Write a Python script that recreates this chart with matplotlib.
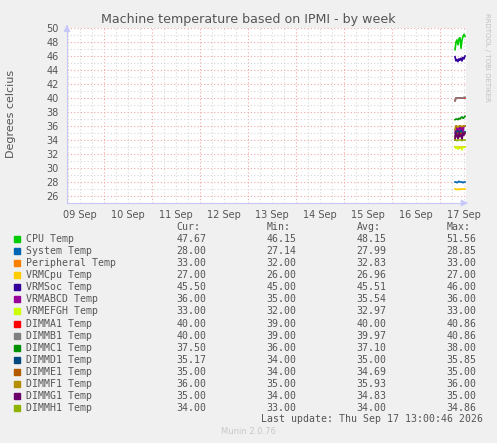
import matplotlib
matplotlib.use('Agg')
import matplotlib.pyplot as plt
import matplotlib.dates as mdates
import pandas as pd
import numpy as np

# samples (30 min resolution), last hours of the week
times = pd.date_range('2026-09-17 07:30', periods=11, freq='30min')

labels = ['CPU Temp', 'System Temp', 'Peripheral Temp', 'VRMCpu Temp', 'VRMSoc Temp',
          'VRMABCD Temp', 'VRMEFGH Temp', 'DIMMA1 Temp', 'DIMMB1 Temp', 'DIMMC1 Temp',
          'DIMMD1 Temp', 'DIMME1 Temp', 'DIMMF1 Temp', 'DIMMG1 Temp', 'DIMMH1 Temp']
colors = ['#00CC00', '#0066B3', '#FF8000', '#FFCC00', '#330099', '#990099', '#CCFF00',
          '#FF0000', '#808080', '#008F00', '#00487D', '#B35A00', '#B38F00', '#6B006B', '#8FB300']

cpu = [46.9, 48.0, 48.3, 47.6, 48.5, 48.6, 47.1, 48.3, 48.8, 49.1, 48.8]
system = [28.0, 28.0, 27.9, 28.0, 28.1, 28.0, 28.0, 28.0, 27.9, 28.0, 28.0]
peripheral = [33.0, 32.9, 33.0, 33.0, 32.8, 33.0, 33.0, 32.9, 33.0, 33.0, 33.0]
vrmcpu = [27.0, 27.0, 26.9, 27.0, 27.0, 26.9, 27.0, 27.0, 27.0, 27.0, 27.0]
vrmsoc = [45.9, 45.3, 45.5, 45.2, 45.6, 45.4, 45.7, 45.3, 45.8, 45.6, 46.0]
vrmabcd = [35.0, 36.0, 35.2, 35.8, 35.1, 36.0, 35.5, 35.9, 35.2, 36.0, 36.0]
vrmefgh = [33.0, 32.8, 33.0, 32.7, 33.0, 33.0, 32.9, 32.6, 33.0, 33.0, 33.0]
dimma1 = [39.6, 40.0, 40.0, 40.0, 40.0, 40.0, 40.0, 40.0, 40.0, 40.0, 40.0]
dimmb1 = [39.6, 40.0, 40.0, 40.0, 40.0, 40.0, 40.0, 40.0, 40.0, 40.1, 40.1]
dimmc1 = [36.9, 37.0, 37.0, 36.9, 37.1, 37.0, 37.2, 37.3, 37.1, 37.2, 37.4]
dimmd1 = [34.5, 35.2, 34.8, 35.3, 34.9, 35.0, 35.4, 34.8, 35.1, 35.0, 35.2]
dimme1 = [34.2, 35.0, 34.5, 35.0, 34.4, 34.8, 35.0, 34.6, 34.8, 35.0, 35.0]
dimmf1 = [35.5, 36.0, 36.0, 35.8, 36.0, 36.0, 36.0, 35.9, 36.0, 36.0, 36.0]
dimmg1 = [34.0, 35.0, 34.6, 34.2, 35.0, 34.5, 34.8, 34.0, 35.0, 34.7, 35.0]
dimmh1 = [34.0, 34.0, 33.9, 34.0, 34.0, 34.0, 34.0, 33.9, 34.0, 34.0, 34.0]
series = [cpu, system, peripheral, vrmcpu, vrmsoc, vrmabcd, vrmefgh, dimma1, dimmb1,
          dimmc1, dimmd1, dimme1, dimmf1, dimmg1, dimmh1]

cur = ['47.67', '28.00', '33.00', '27.00', '45.50', '36.00', '33.00', '40.00', '40.00',
       '37.50', '35.17', '35.00', '36.00', '35.00', '34.00']
mins = ['46.15', '27.14', '32.00', '26.00', '45.00', '35.00', '32.00', '39.00', '39.00',
        '36.00', '34.00', '34.00', '35.00', '34.00', '33.00']
avgs = ['48.15', '27.99', '32.83', '26.96', '45.51', '35.54', '32.97', '40.00', '39.97',
        '37.10', '35.00', '34.69', '35.93', '34.83', '34.00']
maxs = ['51.56', '28.85', '33.00', '27.00', '46.00', '36.00', '33.00', '40.86', '40.86',
        '38.00', '35.85', '35.00', '36.00', '35.00', '34.86']

W, H = 497, 443
fig = plt.figure(figsize=(W / 100, H / 100), dpi=100, facecolor='#F0F0F0')
ax = fig.add_axes([67 / W, 1 - 203 / H, 399 / W, 175 / H])
ax.set_facecolor('white')

for vals, c in zip(series, colors):
    ax.plot(times, vals, color=c, lw=1.2)

x0 = pd.Timestamp('2026-09-09 05:30')
x1 = pd.Timestamp('2026-09-17 13:00')
ax.set_xlim(x0, x1)
ax.set_ylim(25, 50)

ax.yaxis.set_major_locator(plt.MultipleLocator(2))
ax.yaxis.set_minor_locator(plt.MultipleLocator(1))
ax.xaxis.set_major_locator(mdates.HourLocator(byhour=[0]))
ax.xaxis.set_minor_locator(mdates.HourLocator(byhour=[6, 12, 18]))
ax.grid(which='minor', color='#D8D8D8', ls=(0, (1, 2)), lw=0.8)
ax.grid(which='major', color='#EFA8A8', ls=(0, (1, 2)), lw=0.8)
ax.set_xticklabels([])
ax.tick_params(which='both', length=0, labelsize=7, colors='#555555')
ax.tick_params(axis='y', pad=6)

# day labels centred at noon
days = pd.date_range('2026-09-09 12:00', '2026-09-17 12:00', freq='1D')
for d in days:
    ax.text(d, -0.04, d.strftime('%d %b'), transform=ax.get_xaxis_transform(),
            ha='center', va='top', fontsize=7, color='#555555')

for s in ['top', 'right']:
    ax.spines[s].set_visible(False)
for s in ['left', 'bottom']:
    ax.spines[s].set_color('#C8C8F8')
ax.annotate('', xy=(1.012, 0), xytext=(0.99, 0), xycoords='axes fraction',
            arrowprops=dict(arrowstyle='-|>', color='#C8C8F8', lw=0.8), annotation_clip=False)
ax.annotate('', xy=(0, 1.035), xytext=(0, 0.99), xycoords='axes fraction',
            arrowprops=dict(arrowstyle='-|>', color='#C8C8F8', lw=0.8), annotation_clip=False)

fig.text(248 / W, 1 - 19 / H, 'Machine temperature based on IPMI - by week',
         ha='center', va='center', fontsize=9.1, color='#555555')
fig.text(11 / W, 1 - 114 / H, 'Degrees celcius', rotation=90, ha='center', va='center',
         fontsize=8, color='#555555')
fig.text(487.5 / W, 1 - 57 / H, 'RRDTOOL / TOBI OETIKER', rotation=270, ha='center',
         va='center', fontsize=5, color='#C0C0C0')

mono = 'DejaVu Sans Mono'
fs = 7.1
tc = '#555555'
col_x = [176.7, 266.7, 356.7, 446.7]
for hx, h in zip(col_x, ['Cur:', 'Min:', 'Avg:', 'Max:']):
    fig.text(hx / W, 1 - 227 / H, h, ha='left', va='center', family=mono, fontsize=fs, color=tc)
for i in range(len(labels)):
    y = 1 - (239.3 + 12.03 * i) / H
    fig.patches.append(plt.Rectangle((14 / W, y - 3 / H), 6 / W, 6 / H,
                                     transform=fig.transFigure, color=colors[i]))
    fig.text(26 / W, y, labels[i], ha='left', va='center', family=mono, fontsize=fs, color=tc)
    for cx, v in zip(col_x, [cur[i], mins[i], avgs[i], maxs[i]]):
        fig.text(cx / W, y, v, ha='left', va='center', family=mono, fontsize=fs, color=tc)

fig.text(483 / W, 1 - 419.3 / H, 'Last update: Thu Sep 17 13:00:46 2026', ha='right',
         va='center', family=mono, fontsize=fs, color=tc)
fig.text(248 / W, 1 - 432 / H, 'Munin 2.0.76', ha='center', va='center', fontsize=6,
         color='#C8C8C8')

fig.savefig('out.png', dpi=100, facecolor=fig.get_facecolor())
